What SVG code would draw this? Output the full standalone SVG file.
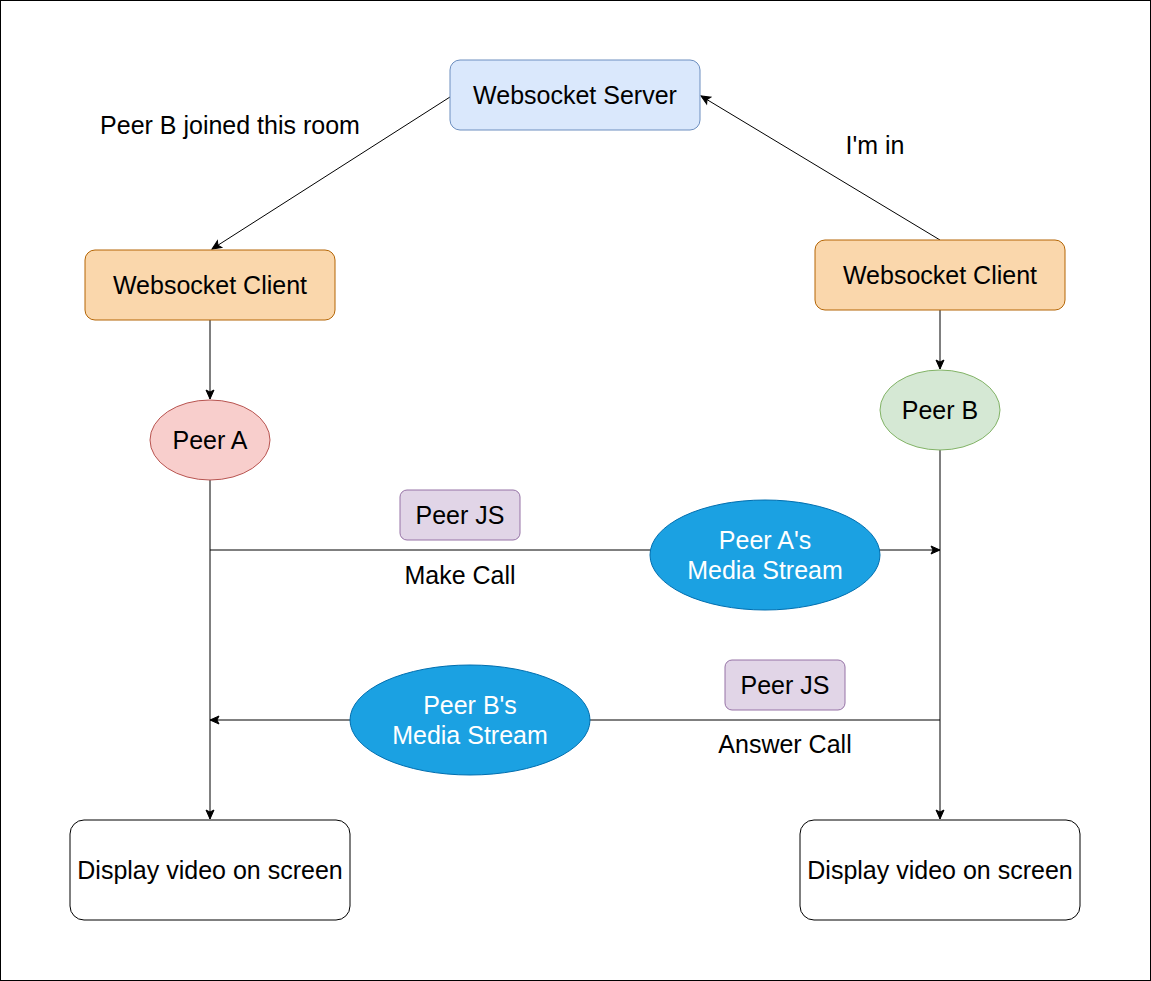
<svg xmlns="http://www.w3.org/2000/svg" width="1151" height="981" viewBox="0 0 1151 981">
<style>
text{font-family:"Liberation Sans",Arial,sans-serif;font-size:25px;fill:#000;text-anchor:middle}
.w{fill:#fff}
.c{fill:none;stroke:#000;stroke-width:1}
</style>
<defs>
<marker id="a" markerWidth="12" markerHeight="12" viewBox="0 0 12 12" refX="10" refY="6" orient="auto" markerUnits="userSpaceOnUse">
<path d="M1,2 L10,6 L1,10 L3,6 Z" fill="#000" stroke="#000" stroke-width="1"/>
</marker>
</defs>
<rect x="0.5" y="0.5" width="1150" height="980" fill="#fff" stroke="#000" stroke-width="1"/>
<g id="connectors">
<path class="c" d="M450,97 L212,249" marker-end="url(#a)"/>
<path class="c" d="M940,240 L701,96" marker-end="url(#a)"/>
<path class="c" d="M210,320 L210,399" marker-end="url(#a)"/>
<path class="c" d="M940,310 L940,369" marker-end="url(#a)"/>
<path class="c" d="M210,480 L210,819" marker-end="url(#a)"/>
<path class="c" d="M940,450 L940,819" marker-end="url(#a)"/>
<path class="c" d="M210,550 L940,550" marker-end="url(#a)"/>
<path class="c" d="M940,720 L210,720" marker-end="url(#a)"/>
</g>
<g id="labels">
<text x="230" y="134">Peer B joined this room</text>
<text x="875" y="154">I'm in</text>
<text x="460" y="584">Make Call</text>
<text x="785" y="753">Answer Call</text>
</g>
<g id="server"><rect x="450" y="60" width="250" height="70" rx="10" fill="#dae8fc" stroke="#6c8ebf"/><text x="575" y="104">Websocket Server</text></g>
<g id="clientA"><rect x="85" y="250" width="250" height="70" rx="10" fill="#fad7ac" stroke="#b46504"/><text x="210" y="294">Websocket Client</text></g>
<g id="clientB"><rect x="815" y="240" width="250" height="70" rx="10" fill="#fad7ac" stroke="#b46504"/><text x="940" y="284">Websocket Client</text></g>
<g id="peerA"><ellipse cx="210" cy="440" rx="60" ry="40" fill="#f8cecc" stroke="#b85450"/><text x="210" y="449">Peer A</text></g>
<g id="peerB"><ellipse cx="940" cy="410" rx="60" ry="40" fill="#d5e8d4" stroke="#82b366"/><text x="940" y="419">Peer B</text></g>
<g id="peerjs1"><rect x="400" y="490" width="120" height="50" rx="7" fill="#e1d5e7" stroke="#9673a6"/><text x="460" y="524">Peer JS</text></g>
<g id="peerjs2"><rect x="725" y="660" width="120" height="50" rx="7" fill="#e1d5e7" stroke="#9673a6"/><text x="785" y="694">Peer JS</text></g>
<g id="streamA"><ellipse cx="765" cy="555" rx="115" ry="55" fill="#1ba1e2" stroke="#006eaf"/><text class="w" x="765" y="549">Peer A's</text><text class="w" x="765" y="579">Media Stream</text></g>
<g id="streamB"><ellipse cx="470" cy="720" rx="120" ry="55" fill="#1ba1e2" stroke="#006eaf"/><text class="w" x="470" y="714">Peer B's</text><text class="w" x="470" y="744">Media Stream</text></g>
<g id="displayA"><rect x="70" y="820" width="280" height="100" rx="14" fill="#fff" stroke="#000"/><text x="210" y="879">Display video on screen</text></g>
<g id="displayB"><rect x="800" y="820" width="280" height="100" rx="14" fill="#fff" stroke="#000"/><text x="940" y="879">Display video on screen</text></g>
</svg>
